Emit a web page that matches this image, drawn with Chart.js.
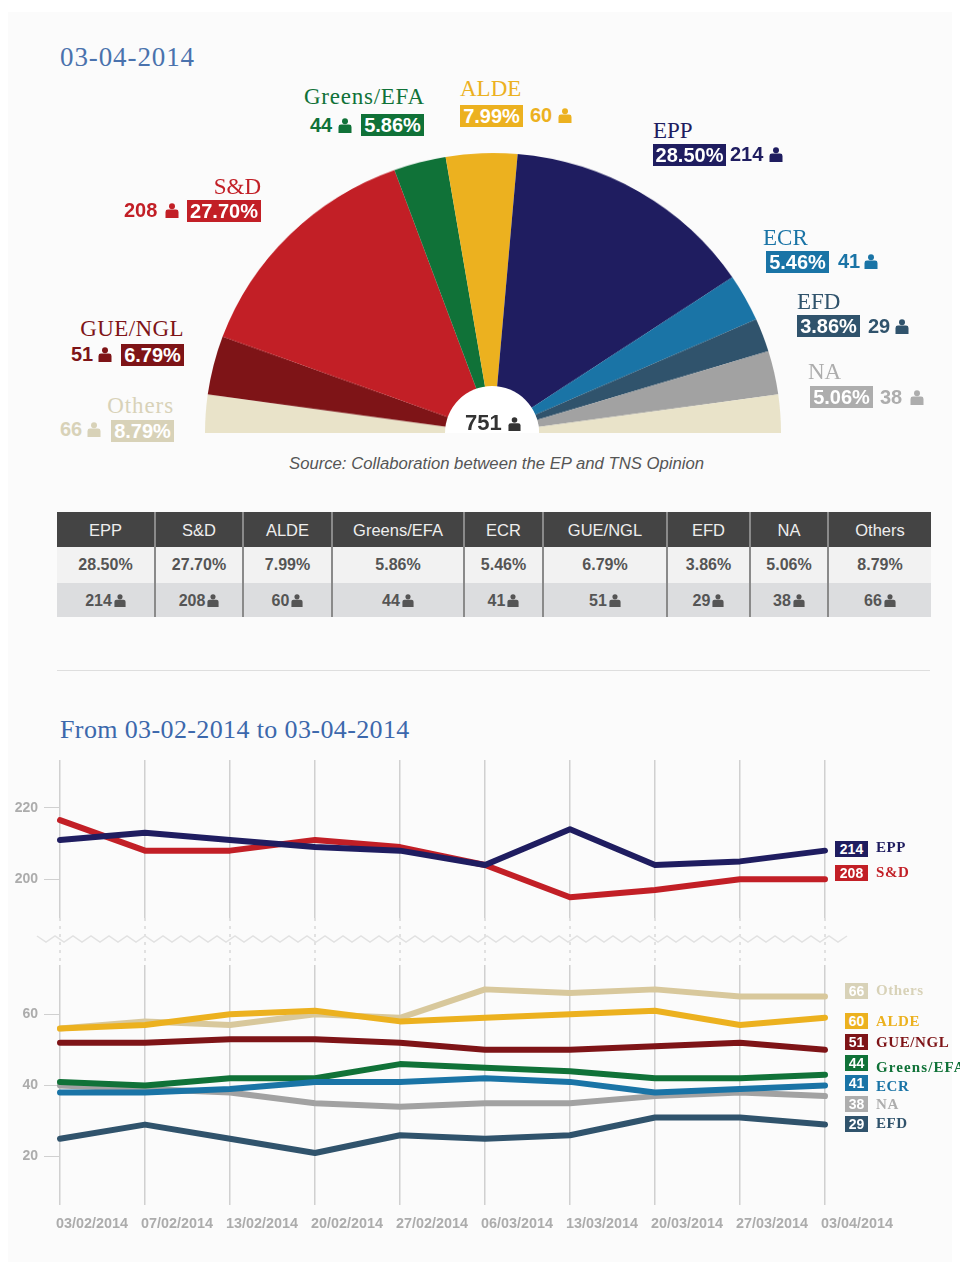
<!DOCTYPE html>
<html>
<head>
<meta charset="utf-8">
<title>European Parliament seats</title>
<script src="https://cdn.jsdelivr.net/npm/chart.js@4"></script>
<style>
html, body { margin: 0; padding: 0; background: #fff; }
#page { position: relative; width: 960px; height: 1275px; overflow: hidden; font-family: "Liberation Sans", Arial, sans-serif; }
#panel { position: absolute; left: 8px; top: 12px; width: 944px; height: 1250px; background: #fbfbfb; }
.title { position: absolute; font-family: "Liberation Serif", serif; color: #4a72ad; white-space: nowrap; }
#wrap-pie { position: absolute; left: 205px; top: 145px; width: 576px; height: 288px; transform: scale(1, 0.972); transform-origin: bottom; }
#hole { position: absolute; left: 445px; top: 386px; width: 94px; height: 94px; border-radius: 50%; background: #fff; clip-path: inset(0 0 47px 0); }
#total { position: absolute; left: 446px; top: 410px; width: 94px; text-align: center; font: bold 22px "Liberation Sans", sans-serif; color: #333; line-height: 26px; }
#source { position: absolute; left: 289px; top: 454px; font: italic 16.7px "Liberation Sans", sans-serif; color: #555; white-space: nowrap; }
.name { position: absolute; font-family: "Liberation Serif", serif; font-size: 23px; line-height: 24px; white-space: nowrap; }
.pct { position: absolute; height: 22px; line-height: 22px; width: 63px; text-align: center; color: #fff; font: bold 20px/22px "Liberation Sans", sans-serif; }
.seat { position: absolute; font: bold 20px/22px "Liberation Sans", sans-serif; white-space: nowrap; }
svg.man { display: inline-block; fill: currentColor; }
#tbl { position: absolute; left: 57px; top: 512px; border-collapse: collapse; table-layout: fixed; width: 874px; text-align: center; }
#tbl th { background: #444; color: #eee; font: normal 16.5px "Liberation Sans", sans-serif; height: 35px; padding: 1px 0 0; box-sizing: border-box; }
#tbl td { color: #555; font: bold 16px "Liberation Sans", sans-serif; padding: 0; }
#tbl tr.r1 td { background: #f2f2f2; height: 36px; }
#tbl tr.r2 td { background: #dcdddf; height: 34px; padding-top: 1px; box-sizing: border-box; }
#tbl th + th, #tbl td + td { border-left: 2px solid #8a8a8a; }
#rule { position: absolute; left: 57px; top: 670px; width: 873px; height: 1px; background: #dedede; }
#wrap-top { position: absolute; left: 0; top: 750px; width: 960px; height: 215px; }
#wrap-bottom { position: absolute; left: 0; top: 955px; width: 960px; height: 285px; }
.tag { position: absolute; left: 835px; width: 33px; height: 16px; line-height: 16px; color: #fff; text-align: center; font: bold 14px/16px "Liberation Sans", sans-serif; }
.tag.small { left: 845px; width: 23px; }
.tagname { position: absolute; left: 876px; font: bold 15px/16px "Liberation Serif", serif; letter-spacing: 0.6px; white-space: nowrap; }
</style>
</head>
<body>
<div id="page">
  <div id="panel"></div>
  <div class="title" style="left:60px;top:42px;font-size:27px;letter-spacing:.9px">03-04-2014</div>
  <div id="wrap-pie"><canvas id="pie" width="576" height="288"></canvas></div>
  <div id="hole"></div>
  <div id="total"></div>
  <div id="source">Source: Collaboration between the EP and TNS Opinion</div>
  <table id="tbl"></table>
  <div id="rule"></div>
  <div class="title" style="left:60px;top:715px;font-size:26px;letter-spacing:.38px;color:#3c68ac">From 03-02-2014 to 03-04-2014</div>
  <div id="wrap-top"><canvas id="lineTop" width="960" height="215"></canvas></div>
  <div id="wrap-bottom"><canvas id="lineBottom" width="960" height="285"></canvas></div>
</div>
<script>
// table order
const parties = ['EPP', 'S&D', 'ALDE', 'Greens/EFA', 'ECR', 'GUE/NGL', 'EFD', 'NA', 'Others']
const percents = ['28.50%', '27.70%', '7.99%', '5.86%', '5.46%', '6.79%', '3.86%', '5.06%', '8.79%']
const seats = [214, 208, 60, 44, 41, 51, 29, 38, 66]
const totalSeats = 751

const dates = ['03/02/2014', '07/02/2014', '13/02/2014', '20/02/2014', '27/02/2014', '06/03/2014', '13/03/2014', '20/03/2014', '27/03/2014', '03/04/2014']
const ticksTop = [200, 220]
const ticksBottom = [20, 40, 60]

const eppTrend = [211, 213, 211, 209, 208, 204, 214, 204, 205, 208]
const sdTrend = [216.5, 208, 208, 211, 209, 204, 195, 197, 200, 200]
const othersTrend = [56, 58, 57, 60, 59, 67, 66, 67, 65, 65]
const aldeTrend = [56, 57, 60, 61, 58, 59, 60, 61, 57, 59]
const gueTrend = [52, 52, 53, 53, 52, 50, 50, 51, 52, 50]
const greensTrend = [41, 40, 42, 42, 46, 45, 44, 42, 42, 43]
const ecrTrend = [38, 38, 39, 41, 41, 42, 41, 38, 39, 40]
const naTrend = [40, 39, 38, 35, 34, 35, 35, 37, 38, 37]
const efdTrend = [25, 29, 25, 21, 26, 25, 26, 31, 31, 29]

const colors = {
    'EPP': '#1f1d60', 'S&D': '#c21f26', 'ALDE': '#ecb11f', 'Greens/EFA': '#107238', 'ECR': '#1a74a6',
    'GUE/NGL': '#7e1417', 'EFD': '#30536c', 'NA': '#a2a2a2', 'Others': '#e9e3c9'
}
const labelColors = Object.assign({}, colors, { 'Others': '#d8d2b8', 'NA': '#adadad' })

function man(size) {
    return '<svg class="man" width="' + size + '" height="' + (size + 1) + '" viewBox="0 0 14 15" style="vertical-align:-1px"><circle cx="7" cy="3.2" r="3"/><path d="M0.5 15V9Q0.5 6.6 3 6.6H11Q13.5 6.6 13.5 9V15Z"/></svg>'
}

// upper labels round the half circle
const placement = {
    'Greens/EFA': { name: [304, 85], pct: [361, 114], seat: [310, 114], icon: 338, spacing: 0.75 },
    'ALDE': { name: [460, 77], pct: [460, 105], seat: [530, 104], icon: 558 },
    'EPP': { name: [653, 119], pct: [653, 144, 73], seat: [730, 143], icon: 769 },
    'ECR': { name: [763, 226], pct: [766, 251], seat: [838, 250], icon: 864 },
    'EFD': { name: [797, 290], pct: [797, 315], seat: [868, 315], icon: 895 },
    'NA': { name: [808, 360], pct: [810, 386], seat: [880, 386], icon: 910 },
    'S&D': { nameRight: [261, 175], pct: [187, 200, 74], seat: [124, 199], icon: 165 },
    'GUE/NGL': { nameRight: [184, 317], pct: [121, 344], seat: [71, 343], icon: 98, spacing: 0.4 },
    'Others': { nameRight: [174, 394], pct: [111, 420], seat: [60, 418], icon: 87, spacing: 0.9 }
}
const page = document.getElementById('page')

parties.forEach((p, i) => {
    const pos = placement[p]
    const col = labelColors[p]
    const nm = document.createElement('div')
    nm.className = 'name'
    nm.textContent = p
    nm.style.color = col
    if (pos.spacing) nm.style.letterSpacing = pos.spacing + 'px'
    if (pos.name) {
        nm.style.left = pos.name[0] + 'px'
        nm.style.top = pos.name[1] + 'px'
    } else {
        nm.style.right = (960 - pos.nameRight[0]) + 'px'
        nm.style.top = pos.nameRight[1] + 'px'
    }
    page.appendChild(nm)

    const pc = document.createElement('div')
    pc.className = 'pct'
    pc.textContent = percents[i]
    pc.style.left = pos.pct[0] + 'px'
    pc.style.top = pos.pct[1] + 'px'
    if (pos.pct[2]) pc.style.width = pos.pct[2] + 'px'
    pc.style.background = col
    page.appendChild(pc)

    const st = document.createElement('div')
    st.className = 'seat'
    st.textContent = seats[i]
    st.style.left = pos.seat[0] + 'px'
    st.style.top = pos.seat[1] + 'px'
    st.style.color = col
    page.appendChild(st)

    const ic = document.createElement('div')
    ic.className = 'seat'
    ic.innerHTML = man(14)
    ic.style.left = pos.icon + 'px'
    ic.style.top = pos.seat[1] + 'px'
    ic.style.color = col
    page.appendChild(ic)
})

document.getElementById('total').innerHTML = totalSeats + ' ' + man(13)

// table
const widths = [98, 88, 89, 132, 79, 124, 83, 78, 103]
let html = '<colgroup>' + widths.map(w => '<col style="width:' + w + 'px">').join('') + '</colgroup>'
html += '<tr>' + parties.map(p => '<th>' + p.replace('&', '&amp;') + '</th>').join('') + '</tr>'
html += '<tr class="r1">' + percents.map(v => '<td>' + v + '</td>').join('') + '</tr>'
html += '<tr class="r2">' + seats.map(v => '<td>' + v + '<span style="margin-left:2px">' + man(12) + '</span></td>').join('') + '</tr>'
document.getElementById('tbl').innerHTML = html

// half circle, Others is split over both ends
const arcOrder = ['GUE/NGL', 'S&D', 'Greens/EFA', 'ALDE', 'EPP', 'ECR', 'EFD', 'NA']
const othersHalf = seats[parties.indexOf('Others')] / 2
const arcValues = [othersHalf].concat(arcOrder.map(p => seats[parties.indexOf(p)]), [othersHalf])
const arcColors = [colors['Others']].concat(arcOrder.map(p => colors[p]), [colors['Others']])
const arcLabels = ['Others'].concat(arcOrder, ['Others'])

new Chart(document.getElementById('pie'), {
    type: 'doughnut',
    data: {
        labels: arcLabels,
        datasets: [{ data: arcValues, backgroundColor: arcColors, borderWidth: 0 }]
    },
    options: {
        responsive: false,
        animation: false,
        rotation: -90,
        circumference: 180,
        cutout: '16%',
        layout: { padding: 0 },
        plugins: { legend: { display: false }, tooltip: { enabled: false } }
    }
})

// dashes and zigzag for the axis break, below the upper panel
const axisBreak = {
    id: 'axisBreak',
    afterDraw(chart) {
        const c = chart.ctx
        const x = chart.scales.x
        const bottom = chart.chartArea.bottom
        c.save()
        c.strokeStyle = '#d9d9d9'
        c.lineWidth = 1.5
        c.setLineDash([3, 5])
        x.ticks.forEach((t, i) => {
            const px = x.getPixelForTick(i)
            c.beginPath()
            c.moveTo(px, bottom)
            c.lineTo(px, bottom + 46)
            c.stroke()
        })
        c.setLineDash([])
        c.strokeStyle = '#e2e2e2'
        c.lineJoin = 'miter'
        c.beginPath()
        const y0 = bottom + 21
        let k = 0
        for (let px = 37; px <= 849; px += 9) {
            const py = y0 + (k % 2 ? 3 : -3)
            if (k === 0) c.moveTo(px, py)
            else c.lineTo(px, py)
            k++
        }
        c.stroke()
        c.restore()
    }
}

function lineOptions(min, max, tickValues, padding, showDates, xHeight) {
    return {
        responsive: false,
        animation: false,
        layout: { padding: padding },
        plugins: { legend: { display: false }, tooltip: { enabled: false } },
        elements: { point: { radius: 0 }, line: { tension: 0, borderWidth: 6, borderCapStyle: 'round', borderJoinStyle: 'round' } },
        scales: {
            x: {
                type: 'category',
                offset: false,
                afterFit(s) { s.height = xHeight; s.paddingLeft = 0; s.paddingRight = 0 },
                border: { display: false },
                grid: { color: '#d0d0d0', lineWidth: 1.5, drawTicks: false },
                ticks: {
                    display: showDates,
                    align: 'start',
                    labelOffset: -4,
                    padding: 10,
                    autoSkip: false,
                    maxRotation: 0,
                    color: '#acacac',
                    font: { family: '"Liberation Sans"', size: 14.4, weight: 'bold' }
                }
            },
            y: {
                min: min,
                max: max,
                afterFit(s) { s.width = 60; s.paddingTop = 0; s.paddingBottom = 0 },
                afterBuildTicks(s) { s.ticks = tickValues.map(v => ({ value: v })) },
                border: { display: false },
                grid: { drawOnChartArea: false, color: '#d0d0d0', tickLength: 16 },
                ticks: {
                    padding: 6,
                    color: '#acacac',
                    font: { family: '"Liberation Sans"', size: 14, weight: 'bold' }
                }
            }
        }
    }
}

new Chart(document.getElementById('lineTop'), {
    type: 'line',
    plugins: [axisBreak],
    data: {
        labels: dates,
        datasets: [
            { label: 'EPP', data: eppTrend, borderColor: colors['EPP'], order: 0 },
            { label: 'S&D', data: sdTrend, borderColor: colors['S&D'], order: 1 }
        ]
    },
    options: lineOptions(189.2, 233.3, ticksTop, { top: 10, right: 135, bottom: 47 }, false, 0)
})

new Chart(document.getElementById('lineBottom'), {
    type: 'line',
    data: {
        labels: dates,
        datasets: [
            { label: 'ALDE', data: aldeTrend, borderColor: colors['ALDE'], order: 0 },
            { label: 'ECR', data: ecrTrend, borderColor: colors['ECR'], order: 1 },
            { label: 'Greens/EFA', data: greensTrend, borderColor: colors['Greens/EFA'], order: 2 },
            { label: 'GUE/NGL', data: gueTrend, borderColor: colors['GUE/NGL'], order: 3 },
            { label: 'EFD', data: efdTrend, borderColor: colors['EFD'], order: 4 },
            { label: 'NA', data: naTrend, borderColor: colors['NA'], order: 5 },
            { label: 'Others', data: othersTrend, borderColor: '#d8c89c', order: 6 }
        ]
    },
    options: lineOptions(6.4, 73.85, ticksBottom, { top: 10, right: 135 }, true, 35)
})

// end tags beside the lines
const tagTops = { 'EPP': 841, 'S&D': 865, 'Others': 983, 'ALDE': 1013, 'GUE/NGL': 1034, 'Greens/EFA': 1055, 'ECR': 1075, 'NA': 1096, 'EFD': 1116 }
const nameTops = { 'EPP': 839, 'S&D': 864, 'Others': 982, 'ALDE': 1013, 'GUE/NGL': 1034, 'Greens/EFA': 1059, 'ECR': 1078, 'NA': 1096, 'EFD': 1115 }
parties.forEach((p, i) => {
    const t = document.createElement('div')
    t.className = seats[i] > 99 ? 'tag' : 'tag small'
    t.textContent = seats[i]
    t.style.top = tagTops[p] + 'px'
    t.style.background = labelColors[p]
    page.appendChild(t)

    const n = document.createElement('div')
    n.className = 'tagname'
    n.textContent = p
    n.style.top = nameTops[p] + 'px'
    n.style.color = labelColors[p]
    if (p === 'Greens/EFA') n.style.letterSpacing = '1.1px'
    page.appendChild(n)
})
</script>
</body>
</html>
